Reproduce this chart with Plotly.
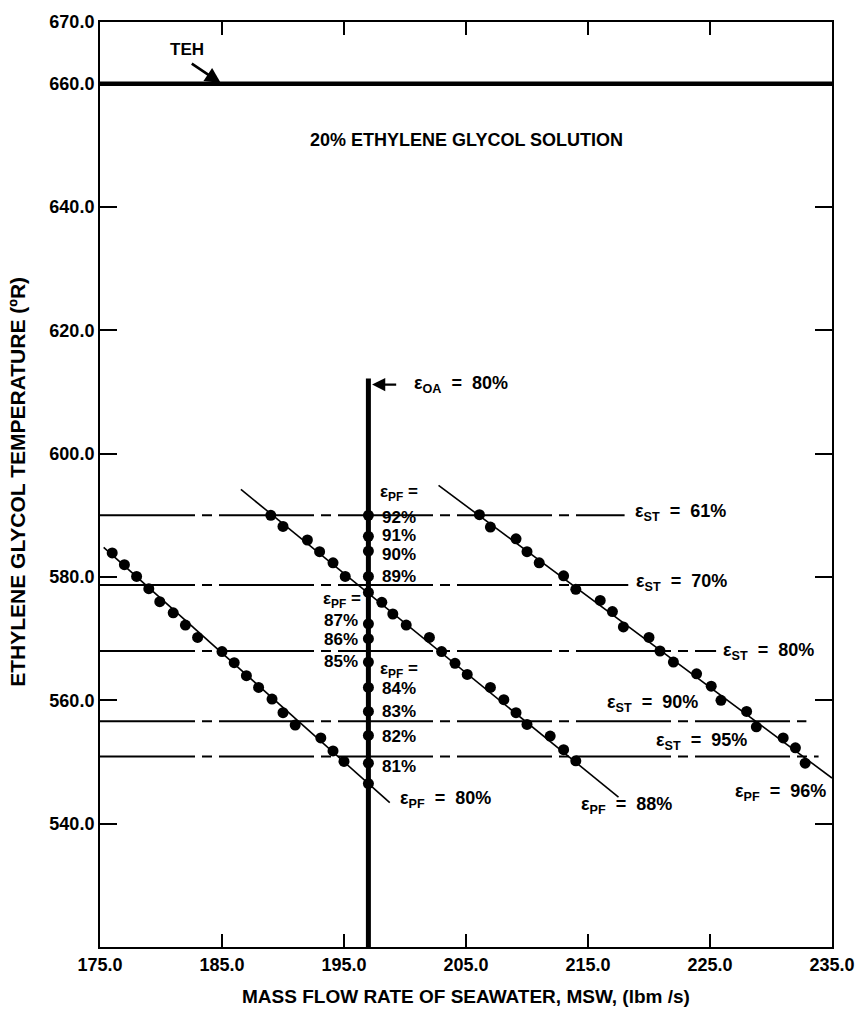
import plotly.graph_objects as go

# ---- data -------------------------------------------------------------
# Plate-fin effectiveness lines (eps_PF): computed points (x = MSW, y = temperature)
pf80_x = [176.0, 177.0, 178.0, 179.0, 179.9, 181.0, 182.0, 183.0, 185.0, 186.0,
          187.0, 188.0, 189.1, 190.0, 191.0, 193.1, 194.1, 195.0]
pf80_y = [583.9, 582.0, 580.1, 578.1, 576.0, 574.2, 572.2, 570.2, 567.9, 566.1,
          564.0, 562.1, 560.2, 558.0, 556.0, 553.9, 551.8, 550.1]

pf88_x = [189.0, 190.0, 192.0, 193.0, 194.1, 195.1, 198.1, 199.0, 200.1, 202.0,
          203.0, 204.1, 205.1, 207.0, 208.1, 209.1, 210.0, 211.9, 213.0, 214.0]
pf88_y = [590.0, 588.2, 586.0, 584.1, 582.3, 580.1, 575.9, 574.0, 572.2, 570.2,
          567.9, 566.0, 564.2, 562.1, 560.1, 558.0, 556.1, 554.2, 552.0, 550.2]

pf96_x = [206.1, 207.0, 209.1, 210.0, 211.0, 213.0, 214.0, 216.0, 217.0, 217.9,
          220.0, 220.9, 222.0, 223.9, 225.1, 225.9, 228.0, 228.8, 231.0, 232.0, 232.8]
pf96_y = [590.1, 588.1, 586.2, 584.1, 582.3, 580.2, 578.0, 576.2, 574.4, 571.9,
          570.2, 568.0, 566.2, 564.3, 562.3, 560.0, 558.2, 555.7, 553.9, 552.3, 549.8]

# Fitted straight lines through each eps_PF family (end points)
pf_fit_x = {"80": [175.3, 198.75], "88": [186.55, 217.5], "96": [202.75, 235.0]}
pf_fit_y = {"80": [584.8, 543.4], "88": [594.2, 544.3], "96": [594.85, 547.4]}

# Overall effectiveness eps_OA = 80% at MSW = 197
oa_msw = 197.0
oa_top = 612.2
oa_pf = [80, 81, 82, 83, 84, 85, 86, 87, 88, 89, 90, 91, 92]
oa_y = [546.5, 549.8, 554.3, 558.2, 562.1, 566.2, 570.0, 572.4, 577.5, 580.1,
        584.2, 586.6, 590.0]
# vertical placement of the eps_PF percentage labels beside the eps_OA line
oa_label_y = [None, 549.3, 554.1, 558.2, 562.0, 566.3, 569.8, 572.9, None, 580.1,
              583.7, 586.8, 589.7]

# Shell-and-tube effectiveness levels (eps_ST) and where each line stops
st_eff = [61, 70, 80, 90, 95]
st_temp = [590.0, 578.7, 568.0, 556.6, 550.9]
st_xend = [218.0, 218.3, 225.5, 232.9, 233.9]

# Ethylene glycol hot temperature
teh = 660.0

x_range = [175.0, 235.0]
y_range = [520.0, 670.0]
x_ticks = [175, 185, 195, 205, 215, 225, 235]
y_ticks = [540, 560, 580, 600, 620, 640, 660, 670]

# ---- figure -----------------------------------------------------------
FONT = "Liberation Sans, Arial, sans-serif"
NB = "\u00a0"
fig = go.Figure()

# eps_ST lines (long dash / short dash)
for t, xe in zip(st_temp, st_xend):
    fig.add_trace(go.Scatter(x=[x_range[0], xe], y=[t, t], mode="lines",
                             line=dict(color="black", width=2, dash="95px,7px,10px,7px"),
                             hoverinfo="skip", showlegend=False))

# fitted eps_PF lines
for k in ["80", "88", "96"]:
    fig.add_trace(go.Scatter(x=pf_fit_x[k], y=pf_fit_y[k], mode="lines",
                             line=dict(color="black", width=1.6),
                             hoverinfo="skip", showlegend=False))

# TEH line
fig.add_trace(go.Scatter(x=x_range, y=[teh, teh], mode="lines",
                         line=dict(color="black", width=4.5),
                         hoverinfo="skip", showlegend=False))

# eps_OA vertical line
fig.add_trace(go.Scatter(x=[oa_msw, oa_msw], y=[y_range[0], oa_top], mode="lines",
                         line=dict(color="black", width=5),
                         hoverinfo="skip", showlegend=False))

# computed points
for xs, ys in [(pf80_x, pf80_y), (pf88_x, pf88_y), (pf96_x, pf96_y),
               ([oa_msw] * len(oa_y), oa_y)]:
    fig.add_trace(go.Scatter(x=xs, y=ys, mode="markers",
                             marker=dict(color="black", size=11, line=dict(width=0)),
                             showlegend=False))

ann = []


def label(x, y, text, xanchor="left", size=17, yanchor="middle"):
    ann.append(dict(x=x, y=y, xref="x", yref="y", text=text, showarrow=False,
                    xanchor=xanchor, yanchor=yanchor,
                    font=dict(family=FONT, size=size, color="black", weight="bold")))


eps_pf = "ε<sub>PF</sub>"
eps_st = "ε<sub>ST</sub>"

# labels along the eps_OA line
right_side = [81, 82, 83, 84, 89, 90, 91, 92]
left_side = [85, 86, 87]
for pf, ly in zip(oa_pf, oa_label_y):
    if pf in right_side:
        label(197.95, ly, f"{pf}%")
    elif pf in left_side:
        label(196.35, ly, f"{pf}%", xanchor="right")
label(197.8, 593.6, eps_pf + NB + "=")
label(196.55, 576.3, eps_pf + NB + "=", xanchor="right")
label(197.8, 565.0, eps_pf + NB + "=")

# eps_PF line labels
label(199.4, 543.9, eps_pf + NB * 2 + "=" + NB * 2 + "80%", size=18)
label(214.3, 543.0, eps_pf + NB * 2 + "=" + NB * 2 + "88%", size=18)
label(226.9, 545.1, eps_pf + NB * 2 + "=" + NB * 2 + "96%", size=18)

# eps_ST labels
st_lab_pos = [(218.7, 590.4), (218.8, 579.1), (225.9, 567.9), (216.4, 559.5), (220.4, 553.3)]
for eff, (lx, ly) in zip(st_eff, st_lab_pos):
    label(lx, ly, eps_st + NB * 2 + "=" + NB * 2 + f"{eff}%", size=18)

# eps_OA label and arrow
label(200.6, 611.2, "ε<sub>OA</sub>" + NB * 2 + "=" + NB * 2 + "80%", size=18)
ann.append(dict(x=197.3, y=611.2, ax=199.4, ay=611.2, xref="x", yref="y",
                axref="x", ayref="y", text="", showarrow=True,
                arrowhead=2, arrowsize=1.2, arrowwidth=2.2, arrowcolor="black"))

# TEH label and arrow
label(182.1, 665.6, "TEH", xanchor="center", size=17)
ann.append(dict(x=184.9, y=660.1, ax=182.4, ay=663.4, xref="x", yref="y",
                axref="x", ayref="y", text="", showarrow=True,
                arrowhead=2, arrowsize=1.2, arrowwidth=2.6, arrowcolor="black"))

# solution note
label(205.0, 650.9, "20% ETHYLENE GLYCOL SOLUTION", xanchor="center", size=18)

# axis titles
ann.append(dict(x=-0.112, y=0.503, xref="paper", yref="paper", showarrow=False,
                text="ETHYLENE GLYCOL TEMPERATURE (ºR)", textangle=-90,
                xanchor="center", yanchor="middle",
                font=dict(family=FONT, size=21, color="black", weight="bold")))
ann.append(dict(x=0.50, y=-0.054, xref="paper", yref="paper", showarrow=False,
                text="MASS FLOW RATE OF SEAWATER, MSW, (lbm /s)",
                xanchor="center", yanchor="middle",
                font=dict(family=FONT, size=19, color="black", weight="bold")))

axis_common = dict(showline=True, linecolor="black", linewidth=2, mirror="ticks",
                   ticks="inside", tickcolor="black", tickwidth=2,
                   showgrid=False, zeroline=False, tickformat=".1f",
                   tickfont=dict(family=FONT, size=18, color="black", weight="bold"))

fig.update_layout(
    width=867, height=1013,
    margin=dict(l=100, r=30, t=17, b=66, pad=0),
    paper_bgcolor="white", plot_bgcolor="white",
    xaxis=dict(range=x_range, tickvals=x_ticks, ticklen=13, **axis_common),
    yaxis=dict(range=y_range, tickvals=y_ticks, ticklen=17, **axis_common),
    annotations=ann,
    showlegend=False,
)

fig.write_html("out.html")
